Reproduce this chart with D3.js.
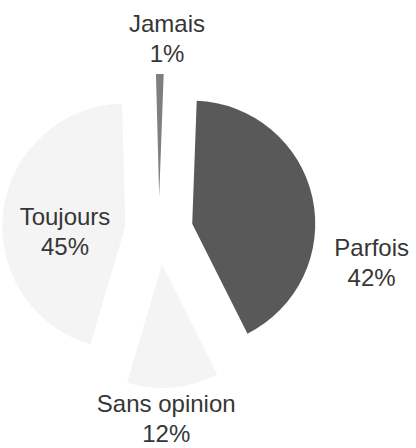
<!DOCTYPE html>
<meta charset="utf-8">
<style>
body { margin: 0; background: #fff; }
.label { font: 24px "Liberation Sans", Arial, sans-serif; fill: #363636; text-anchor: middle; }
</style>
<svg width="416" height="448"></svg>
<script src="https://d3js.org/d3.v7.min.js"></script>
<script>

// data
var categories = ["Jamais", "Parfois", "Sans opinion", "Toujours"];
var values = [1, 42, 12, 45];
var percentLabels = ["1%", "42%", "12%", "45%"];

// layout
var cx = 159, cy = 231, radius = 123, explode = 34;
var colors = ["#7f7f7f", "#595959", "#f4f4f4", "#f4f4f4"];
// label placement: [angle in degrees clockwise from top, distance from centre]
var labelAt = [[2.4, 192], [98.5, 215], [177.8, 188], [269.4, 94]];

var svg = d3.select("svg"),
    g = svg.append("g").attr("transform", "translate(" + cx + "," + cy + ")");

var rad = Math.PI / 180;

var pie = d3.pie()
    .sort(null)
    .startAngle(-1.5 * rad)
    .endAngle(358.5 * rad);

var arc = d3.arc()
    .innerRadius(0)
    .outerRadius(radius);

var arcs = pie(values);

g.selectAll("path")
  .data(arcs)
  .enter().append("path")
    .attr("d", arc)
    .attr("fill", function(d, i) { return colors[i]; })
    .attr("transform", function(d) {
      var a = (d.startAngle + d.endAngle) / 2;
      return "translate(" + (Math.sin(a) * explode) + "," + (-Math.cos(a) * explode) + ")";
    });

var label = g.selectAll("text")
  .data(categories)
  .enter().append("text")
    .attr("class", "label")
    .attr("transform", function(d, i) {
      var a = labelAt[i][0] * rad, r = labelAt[i][1];
      return "translate(" + (Math.sin(a) * r) + "," + (-Math.cos(a) * r) + ")";
    });

label.append("tspan")
    .attr("x", 0)
    .attr("y", -6.7)
    .text(function(d) { return d; });

label.append("tspan")
    .attr("x", 0)
    .attr("y", 22.8)
    .text(function(d, i) { return percentLabels[i]; });

</script>
